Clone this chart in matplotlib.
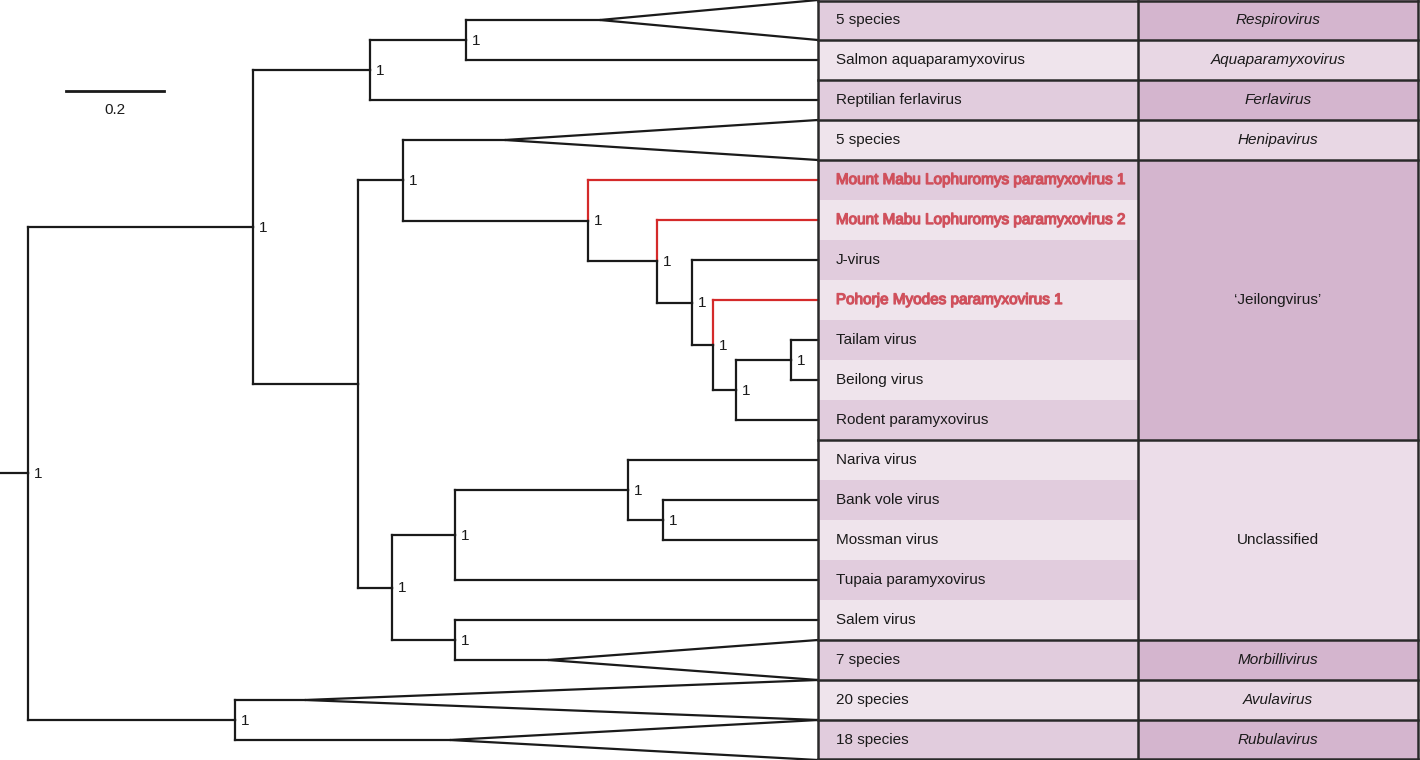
import matplotlib.pyplot as plt
import matplotlib.patheffects as pe
from matplotlib.patches import Rectangle

plt.rcParams['font.family'] = ['Liberation Sans', 'DejaVu Sans']

# tips, top to bottom
tip_labels = ["5 species", "Salmon aquaparamyxovirus", "Reptilian ferlavirus", "5 species",
              "Mount Mabu Lophuromys paramyxovirus 1", "Mount Mabu Lophuromys paramyxovirus 2",
              "J-virus", "Pohorje Myodes paramyxovirus 1", "Tailam virus", "Beilong virus",
              "Rodent paramyxovirus", "Nariva virus", "Bank vole virus", "Mossman virus",
              "Tupaia paramyxovirus", "Salem virus", "7 species", "20 species", "18 species"]
tip_parent = ["C", "C", "B", "E", "F", "G", "H", "I", "K", "K", "J",
              "N", "O", "O", "M", "P", "P", "Q", "Q"]
# depth of the apex of collapsed clades (triangles)
tip_apex = [1.167, None, None, 0.973, None, None, None, None, None, None, None,
            None, None, None, None, None, 1.061, 0.565, 0.861]
tip_new = [False, False, False, False, True, True, False, True, False, False, False,
           False, False, False, False, False, False, False, False]
tip_depth = 1.612

# internal nodes
node_names = ["root", "A", "B", "C", "D", "E", "F", "G", "H", "I", "J", "K",
              "L", "M", "N", "O", "P", "Q"]
node_parent = [None, "root", "A", "B", "A", "D", "E", "F", "G", "H", "I", "J",
               "D", "L", "M", "N", "L", "root"]
node_depth = [0.0, 0.459, 0.698, 0.894, 0.673, 0.765, 1.143, 1.284, 1.355, 1.398, 1.445, 1.557,
              0.743, 0.871, 1.224, 1.296, 0.871, 0.422]
node_support = ["1", "1", "1", "1", "", "1", "1", "1", "1", "1", "1", "1",
                "1", "1", "1", "1", "1", "1"]

# genus table
genus_names = ["Respirovirus", "Aquaparamyxovirus", "Ferlavirus", "Henipavirus", "\u2018Jeilongvirus\u2019",
               "Unclassified", "Morbillivirus", "Avulavirus", "Rubulavirus"]
genus_first = [0, 1, 2, 3, 4, 11, 16, 17, 18]
genus_last = [0, 1, 2, 3, 10, 15, 16, 17, 18]
genus_italic = [True, True, True, True, False, False, True, True, True]

scale_len = 0.2

BLACK = "#1a1a1a"
RED_LINE = "#d42a2a"
RED_TEXT = "#d0505c"
ROW_DARK = "#e1ccdd"
ROW_LIGHT = "#efe4ec"
GEN_DARK = "#d4b5ce"
GEN_LIGHT = "#e8d7e4"
GEN_UNCL = "#ecdde9"
FS = 11

px = 1 / 490.0  # one pixel in branch-length units
col_split = tip_depth + 320 * px
table_right = tip_depth + 600 * px

fig = plt.figure(figsize=(14.2, 7.6), dpi=100)
ax = fig.add_axes([0, 0, 1, 1])
ax.set_xlim(-28 * px, 1392 * px)
ax.set_ylim(len(tip_labels) - 0.5, -0.5)
ax.axis('off')

# children lists
children = {n: [] for n in node_names}
for n, p in zip(node_names, node_parent):
    if p is not None:
        children[p].append(("node", n))
for i, p in enumerate(tip_parent):
    children[p].append(("tip", i))

depth = dict(zip(node_names, node_depth))
ypos = {}


def get_y(kind, key):
    if kind == "tip":
        return float(key)
    if key in ypos:
        return ypos[key][0]
    ys = [get_y(k, c) for k, c in children[key]]
    ypos[key] = ((min(ys) + max(ys)) / 2, min(ys), max(ys))
    return ypos[key][0]


get_y("node", "root")
lw = 1.6

# vertical lines of internal nodes, split at the midpoint so red tips colour their half
for n in node_names:
    y, ylo, yhi = ypos[n]
    top_c = [c for k, c in children[n] if get_y(k, c) == ylo][0]
    bot_c = [c for k, c in children[n] if get_y(k, c) == yhi][0]
    top_red = isinstance(top_c, int) and tip_new[top_c]
    bot_red = isinstance(bot_c, int) and tip_new[bot_c]
    ax.plot([depth[n], depth[n]], [ylo, y], color=RED_LINE if top_red else BLACK, lw=lw,
            solid_capstyle='projecting')
    ax.plot([depth[n], depth[n]], [y, yhi], color=RED_LINE if bot_red else BLACK, lw=lw,
            solid_capstyle='projecting')

# horizontal branches of internal nodes
for n, p in zip(node_names, node_parent):
    y = ypos[n][0]
    if p is None:
        ax.plot([-28 * px, depth[n]], [y, y], color=BLACK, lw=lw)
    else:
        ax.plot([depth[p], depth[n]], [y, y], color=BLACK, lw=lw)

# tips
for i, p in enumerate(tip_parent):
    c = RED_LINE if tip_new[i] else BLACK
    if tip_apex[i] is None:
        ax.plot([depth[p], tip_depth], [i, i], color=c, lw=lw)
    else:
        ax.plot([depth[p], tip_apex[i]], [i, i], color=c, lw=lw)
        ax.plot([tip_depth, tip_apex[i], tip_depth], [i - 0.5, i, i + 0.5], color=BLACK, lw=lw)

# support values
for n, s in zip(node_names, node_support):
    if s:
        ax.text(depth[n] + 6 * px, ypos[n][0] + 0.02, s, fontsize=FS, color=BLACK,
                ha='left', va='center')

# table cells
for i, lab in enumerate(tip_labels):
    ax.add_patch(Rectangle((tip_depth, i - 0.5), col_split - tip_depth, 1,
                           facecolor=ROW_DARK if i % 2 == 0 else ROW_LIGHT, edgecolor='none', zorder=0))
    t = ax.text(tip_depth + 18 * px, i, lab, fontsize=FS, ha='left', va='center',
                color=RED_TEXT if tip_new[i] else BLACK)
    if tip_new[i]:
        t.set_path_effects([pe.withStroke(linewidth=0.9, foreground=RED_TEXT)])

for g, (name, a, b, it) in enumerate(zip(genus_names, genus_first, genus_last, genus_italic)):
    if name == "Unclassified":
        fc = GEN_UNCL
    else:
        fc = GEN_DARK if g % 2 == 0 else GEN_LIGHT
    ax.add_patch(Rectangle((col_split, a - 0.5), table_right - col_split, b - a + 1,
                           facecolor=fc, edgecolor='none', zorder=0))
    ax.text((col_split + table_right) / 2, (a + b) / 2, name, fontsize=FS, ha='center', va='center',
            style='italic' if it else 'normal', color=BLACK)
    if b < len(tip_labels) - 1:
        ax.plot([tip_depth, table_right], [b + 0.5, b + 0.5], color="#2a2a2a", lw=1.8)

# table frame
ax.plot([tip_depth, tip_depth], [-0.5, len(tip_labels) - 0.5], color="#2a2a2a", lw=1.8)
ax.plot([col_split, col_split], [-0.5, len(tip_labels) - 0.5], color="#2a2a2a", lw=1.8)
ax.plot([table_right, table_right], [-0.5, len(tip_labels) - 0.5], color="#2a2a2a", lw=1.8)
ax.plot([tip_depth, table_right], [-0.48, -0.48], color="#2a2a2a", lw=1.8)
ax.plot([tip_depth, table_right], [len(tip_labels) - 0.52, len(tip_labels) - 0.52], color="#2a2a2a", lw=1.8)

# scale bar
sx = 38 * px
ax.plot([sx, sx + scale_len], [1.775, 1.775], color=BLACK, lw=2)
ax.text(sx + scale_len / 2, 2.25, "0.2", fontsize=FS, ha='center', va='center', color=BLACK)

fig.savefig("out.png", dpi=100)
